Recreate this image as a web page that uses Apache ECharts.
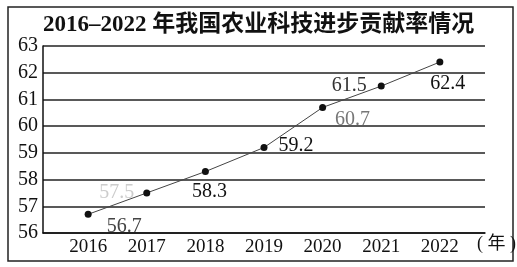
<!DOCTYPE html>
<html><head><meta charset="utf-8">
<script src="https://cdn.jsdelivr.net/npm/echarts@6/dist/echarts.min.js"></script>
<style>html,body{margin:0;padding:0;background:#fff}#c{width:517px;height:267px}</style>
</head><body><div id="c"></div>
<script>
var years = [2016, 2017, 2018, 2019, 2020, 2021, 2022];
var rates = [56.7, 57.5, 58.3, 59.2, 60.7, 61.5, 62.4];
var yTicks = [56, 57, 58, 59, 60, 61, 62, 63];
var titleText = '2016\u20132022 年我国农业科技进步贡献率情况';

var labelCfg = [
  {position: 'right', offset: [10, 12], color: '#444'},
  {position: 'left', offset: [-4, 0], color: '#ccc'},
  {position: 'bottom', offset: [4, 2], color: '#111'},
  {position: 'right', offset: [6, -2], color: '#111'},
  {position: 'right', offset: [4, 12], color: '#777'},
  {position: 'left', offset: [-6, 0], color: '#333'},
  {position: 'bottom', offset: [8, 3], color: '#111'}
];

var data = years.map(function (y, i) {
  return {value: [y, rates[i]], label: labelCfg[i]};
});

var chart = echarts.init(document.getElementById('c'));
chart.setOption({
  animation: false,
  title: {
    text: titleText, left: 38, top: 9,
    textStyle: {fontFamily: '"Liberation Serif","Noto Sans CJK SC",serif', fontSize: 23, fontWeight: 'bold', color: '#111'}
  },
  graphic: [{
    type: 'rect', shape: {x: 8, y: 7, width: 505, height: 254},
    style: {fill: 'none', stroke: '#222', lineWidth: 1.5}, silent: true
  }],
  grid: {left: 43, right: 32, top: 46, bottom: 34, outerBoundsMode: 'none', containLabel: false},
  xAxis: {
    type: 'value', min: 2015.23, max: 2022.77,
    name: '( 年 )', nameLocation: 'end', nameGap: -8,
    nameTextStyle: {fontFamily: '"Liberation Serif","Noto Sans CJK SC",serif', fontSize: 18, color: '#111', verticalAlign: 'top', padding: [2, 0, 0, 0]},
    axisLine: {show: true, lineStyle: {color: '#111', width: 1.5}},
    axisTick: {show: false},
    splitLine: {show: false},
    axisLabel: {
      customValues: years, margin: 5,
      fontFamily: '"Liberation Serif",serif', fontSize: 19, color: '#111',
      formatter: function (v) { return String(Math.round(v)); }
    }
  },
  yAxis: {
    type: 'value', min: yTicks[0], max: yTicks[yTicks.length - 1], interval: 1,
    axisLine: {show: true, lineStyle: {color: '#111', width: 1.5}},
    axisTick: {show: false},
    splitLine: {show: true, lineStyle: {color: '#222', width: 1.5}},
    axisLabel: {margin: 5, fontFamily: '"Liberation Serif",serif', fontSize: 20, color: '#111'}
  },
  series: [{
    type: 'line', data: data,
    symbol: 'circle', symbolSize: 7,
    itemStyle: {color: '#111'},
    lineStyle: {color: '#444', width: 1},
    label: {show: true, fontFamily: '"Liberation Serif",serif', fontSize: 20,
      formatter: function (p) { return p.value[1].toFixed(1); }}
  }]
});
</script></body></html>
